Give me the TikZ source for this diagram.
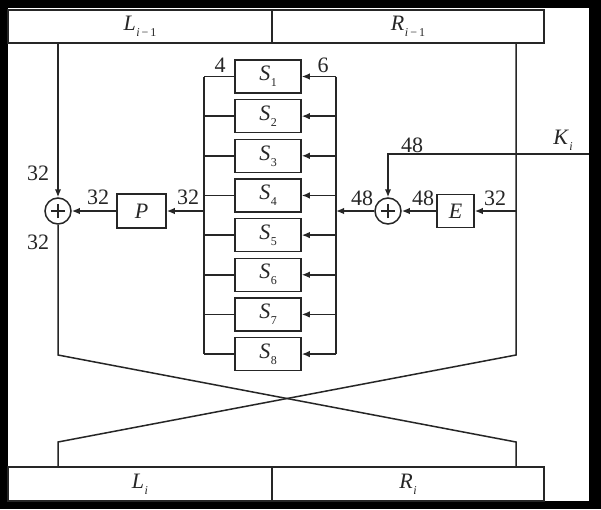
\documentclass[tikz,border=0pt]{standalone}
\usepackage{fontspec}
\setmainfont{Liberation Serif}
\usetikzlibrary{arrows.meta}
\definecolor{ink}{HTML}{262626}
% italic letter with a small upright subscript
\newcommand\subv[2]{\textit{#1}\kern0.5pt\raisebox{-6pt}{\fontsize{12}{12}\selectfont #2}}
\begin{document}
\begin{tikzpicture}[x=1pt,y=-1pt,
  wire/.style={draw=ink,line width=1.5pt},
  flow/.style={wire,-{Latex[length=8pt,width=6.5pt]}},
  box/.style={draw=ink,line width=1.5pt,fill=white,inner sep=0pt,text=ink,
    font=\fontsize{22}{22}\selectfont},
  half/.style={box,minimum height=33pt},
  sbox/.style={box,minimum width=66pt,minimum height=33pt},
  xorop/.style={circle,draw=ink,line width=1.5pt,minimum size=26pt,inner sep=0pt,
    path picture={
      \draw[ink,line width=1.4pt]
        ([xshift=-7pt]path picture bounding box.center) -- ([xshift=7pt]path picture bounding box.center)
        ([yshift=-7pt]path picture bounding box.center) -- ([yshift=7pt]path picture bounding box.center);}},
  bits/.style={inner sep=0pt,text=ink,font=\fontsize{22}{22}\selectfont}]

% frame
\useasboundingbox (0,0) rectangle (601,509);
\fill[black] (0,0) rectangle (601,509);
\fill[white] (8,8) rectangle (589,501);

% halves of the round input and output
\node[half,minimum width=264pt] (Lprev) at (140,26.5) {\subv{L}{\textit{i}\,−\,1}};
\node[half,minimum width=272pt] (Rprev) at (408,26.5) {\subv{R}{\textit{i}\,−\,1}};
\node[half,minimum width=264pt,minimum height=34pt] (Li) at (140,484) {\subv{L}{\textit{i}}};
\node[half,minimum width=272pt,minimum height=34pt] (Ri) at (408,484) {\subv{R}{\textit{i}}};

% S-boxes
\foreach \i in {1,...,8}
  \node[sbox] (S\i) at (268,{76.5+39.65*(\i-1)}) {\subv{S}{\i}};

\coordinate (lbus) at (204,211);
\coordinate (rbus) at (336,211);
\foreach \i in {1,...,8} {
  \draw[wire] (S\i.west) -- (S\i.west -| lbus);
  \draw[flow] (S\i.east -| rbus) -- (S\i.east);
}
\draw[wire] (S1.west -| lbus) -- (S8.west -| lbus);
\draw[wire] (S1.east -| rbus) -- (S8.east -| rbus);

% permutation and left XOR
\node[box,minimum width=49pt,minimum height=34pt] (P) at (141.5,211) {\textit{P}};
\node[xorop] (X1) at (58,211) {};
\draw[flow] (lbus) -- (P.east);
\draw[flow] (P.west) -- (X1.east);
\draw[flow] (X1 |- Lprev.south) -- (X1.north);

% expansion and key XOR
\node[box,minimum width=37pt,minimum height=33pt] (E) at (455.5,211) {\textit{E}};
\node[xorop] (X2) at (388,211) {};
\coordinate (kin) at (589,154);
\coordinate (lturn) at (58,355);
\coordinate (rturn) at (516,355);
\coordinate (lland) at (58,442);
\coordinate (rland) at (516,442);
\draw[flow] (E.east -| rturn) -- (E.east);
\draw[flow] (E.west) -- (X2.east);
\draw[flow] (X2.west) -- (rbus);
\draw[flow] (kin) -| (X2.north);

% swap of the halves
\draw[wire] (X1.south) -- (lturn) -- (rland) -- (rland |- Ri.north);
\draw[wire] (rturn |- Rprev.south) -- (rturn) -- (lland) -- (lland |- Li.north);

% widths in bits
\node[bits] (w4) at (220,65) {4};
\node[bits] (w6) at (323,65) {6};
\node[bits] (wa) at (38,173) {32};
\node[bits] (wb) at (38,242) {32};
\node[bits] (wc) at (98,197) {32};
\node[bits] (wd) at (188,197) {32};
\node[bits] (we) at (362,198) {48};
\node[bits] (wf) at (423,198) {48};
\node[bits] (wg) at (495,198) {32};
\node[bits] (wh) at (412,145) {48};
\node[bits] (K) at (563,140) {\subv{K}{\textit{i}}};
\end{tikzpicture}
\end{document}
